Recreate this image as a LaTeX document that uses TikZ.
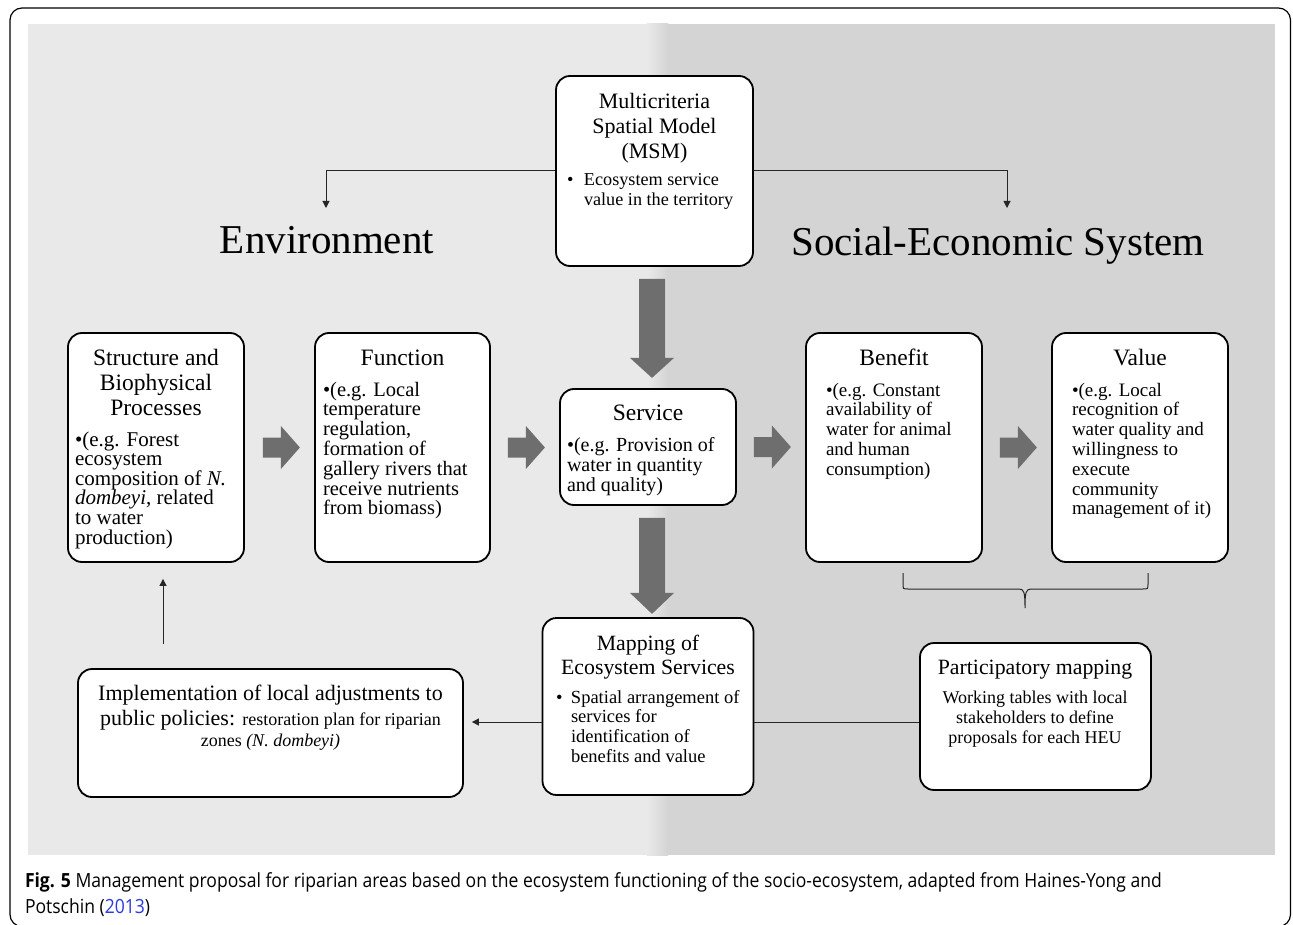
\documentclass[tikz,border=0pt]{standalone}
\usepackage{fontspec}
\setmainfont{Liberation Serif}
\newfontfamily\capfont[FakeStretch=0.90]{Open Sans}
\usetikzlibrary{arrows.meta,calc}
\definecolor{panelL}{HTML}{E9E9E9}
\definecolor{panelR}{HTML}{D4D4D4}
\definecolor{arrowgray}{HTML}{6E6E6E}
\definecolor{linkblue}{HTML}{2B3BE0}
\newcommand{\fs}[2]{\fontsize{#1}{#2}\selectfont}
\tikzset{
  pics/blockarrow/.style args={#1/#2/#3/#4}{code={
    \fill[arrowgray] (0,-#3) -- (#1,-#3) -- (#1,-#4) -- ({#1+#2},0) -- (#1,#4) -- (#1,#3) -- (0,#3) -- cycle;
  }},
}
\begin{document}
\begin{tikzpicture}[x=1pt,y=-1pt,
  box/.style={draw=black, line width=1.8pt, rounded corners=14pt, fill=white, inner sep=0pt},
  txt/.style={inner sep=0pt, outer sep=0pt},
  thinline/.style={draw=black!85, line width=1pt},
  thinarrow/.style={thinline, -{Triangle[length=7pt,width=7pt]}},
]
\useasboundingbox (0,0) rectangle (1293,925);
\fill[white] (0,0) rectangle (1293,925);
% panel
\fill[panelL] (28,24) rectangle (648,855);
\shade[left color=panelL, right color=panelR] (647,24) rectangle (668,855);
\fill[panelR] (667,24) rectangle (1275,855);
% frame
\draw[line width=1.2pt, rounded corners=12pt] (10,8) rectangle (1290.5,926.5);

% headings
\node[txt, anchor=base] (env) at (327,254) {\fs{41}{45}Environment};
\node[txt, anchor=base] (ses) at (998,256) {\fs{41}{45}Social-Economic System};

% boxes
\node[box, minimum width=197pt, minimum height=190pt] (msm) at (654.5,171) {};
\node[box, minimum width=176pt, minimum height=229pt] (struct) at (156,447.5) {};
\node[box, minimum width=175pt, minimum height=229pt] (func) at (402.5,447.5) {};
\node[box, minimum width=176pt, minimum height=116pt] (serv) at (648,447) {};
\node[box, minimum width=176pt, minimum height=229pt] (bene) at (894,447.5) {};
\node[box, minimum width=176pt, minimum height=229pt] (valu) at (1140,447.5) {};
\node[box, minimum width=211pt, minimum height=177pt] (map) at (648,706.5) {};
\node[box, minimum width=385pt, minimum height=128pt] (impl) at (270.5,733) {};
\node[box, minimum width=231pt, minimum height=147pt] (part) at (1035.5,716.5) {};

% MSM
\node[txt, anchor=base] (msmT) at (654.5,109) {\parbox[t]{190pt}{\centering\fs{22}{25}Multicriteria\\Spatial Model\\(MSM)}};
\node[txt, anchor=base west] (msmB) at (567,186) {\parbox[t]{182pt}{\fs{18.2}{20}\hangindent=17pt\hangafter=1\noindent\makebox[17pt][l]{•}Ecosystem service\newline value in the territory}};

% Structure
\node[txt, anchor=base] (structT) at (156,365) {\parbox[t]{172pt}{\centering\fs{23.5}{25}Structure and\\Biophysical\\Processes}};
\node[txt, anchor=base west] (structB) at (75,446) {\parbox[t]{172pt}{\raggedright\fs{21}{19.6}•(e.g. Forest\\ecosystem\\composition of \textit{N.}\\\textit{dombeyi}, related\\to water\\production)}};

% Function
\node[txt, anchor=base] (funcT) at (402.5,365) {\parbox[t]{170pt}{\centering\fs{23.5}{25}Function}};
\node[txt, anchor=base west] (funcB) at (323,396) {\parbox[t]{170pt}{\raggedright\fs{20.5}{19.8}•(e.g. Local\\temperature\\regulation,\\formation of\\gallery rivers that\\receive nutrients\\from biomass)}};

% Service
\node[txt, anchor=base] (servT) at (648,420) {\parbox[t]{170pt}{\centering\fs{23.5}{25}Service}};
\node[txt, anchor=base west] (servB) at (567,451) {\parbox[t]{170pt}{\raggedright\fs{20}{20}•(e.g. Provision of\\water in quantity\\and quality)}};

% Benefit
\node[txt, anchor=base] (beneT) at (894,365) {\parbox[t]{170pt}{\centering\fs{23.5}{25}Benefit}};
\node[txt, anchor=base west] (beneB) at (826,396) {\parbox[t]{170pt}{\raggedright\fs{19}{19.8}•(e.g. Constant\\availability of\\water for animal\\and human\\consumption)}};

% Value
\node[txt, anchor=base] (valuT) at (1140,365) {\parbox[t]{170pt}{\centering\fs{23.5}{25}Value}};
\node[txt, anchor=base west] (valuB) at (1072,396) {\parbox[t]{170pt}{\raggedright\fs{19}{19.8}•(e.g. Local\\recognition of\\water quality and\\willingness to\\execute\\community\\management of it)}};

% Mapping
\node[txt, anchor=base] (mapT) at (648,650) {\parbox[t]{205pt}{\centering\fs{21.8}{24}Mapping of\\Ecosystem Services}};
\node[txt, anchor=base west] (mapB) at (556,703) {\parbox[t]{192pt}{\fs{18.5}{19.8}\hangindent=15pt\hangafter=1\noindent\makebox[15pt][l]{•}Spatial arrangement of\newline services for\newline identification of\newline benefits and value}};

% Implementation
\node[txt, anchor=base] (implT) at (270.5,700) {\parbox[t]{380pt}{\centering\fs{22}{25}Implementation of local adjustments to\\public policies: {\fs{18}{25}restoration plan for riparian}\\[-4pt]{\fs{18}{21}zones \textit{(N. dombeyi)}}}};

% Participatory
\node[txt, anchor=base] (partT) at (1035,674) {\parbox[t]{226pt}{\centering\fs{21.8}{24}Participatory mapping}};
\node[txt, anchor=base] (partB) at (1035,703) {\parbox[t]{226pt}{\centering\fs{18}{20}Working tables with local\\stakeholders to define\\proposals for each HEU}};

% block arrows
\path ($(struct.east)+(18,0)$) pic {blockarrow=18/19/10/21.5};
\path ($(func.east)+(17,0)$) pic {blockarrow=18/19/10/21.5};
\path ($(serv.east)+(17,0)$) pic {blockarrow=18/19/10/21.5};
\path ($(bene.east)+(17,0)$) pic {blockarrow=18/19/10/21.5};
\path ($(msm.south)+(-2.5,12)$) pic[rotate=-90] {blockarrow=79/20/13/22};
\path ($(serv.south)+(4,12)$) pic[rotate=-90] {blockarrow=75/21/13/22};

% thin connectors
\coordinate (envtop) at (326,208);
\coordinate (sestop) at (1007,208);
\draw[thinarrow] (msm.west) -| (envtop);
\draw[thinarrow] (msm.east) -| (sestop);
\coordinate (hl) at (0,722);
\draw[thinarrow] (map.west |- hl) -- ($(impl.east |- hl)+(8,0)$);
\draw[thinline] (map.east |- hl) -- (part.west |- hl);
\coordinate (upx) at (163,0);
\draw[thinarrow] ($(impl.north -| upx)+(0,-24)$) -- ($(struct.south -| upx)+(0,16)$);

% brace
\draw[thinline] (903,573) -- (903,584) .. controls (903,589) .. (908,589) -- (1019,589)
  .. controls (1024,589) and (1025,592) .. (1025,608)
  .. controls (1025,592) and (1026,589) .. (1031,589) -- (1143,589)
  .. controls (1148,589) .. (1148,584) -- (1148,573);

% caption
\node[txt, anchor=base west] (cap1) at (25,887) {\capfont\fs{19.5}{22}\textbf{Fig. 5} Management proposal for riparian areas based on the ecosystem functioning of the socio-ecosystem, adapted from Haines-Yong and};
\node[txt, anchor=base west] (cap2) at (25,913) {\capfont\fs{19.5}{22}Potschin (\textcolor{linkblue}{2013})};
\end{tikzpicture}
\end{document}
